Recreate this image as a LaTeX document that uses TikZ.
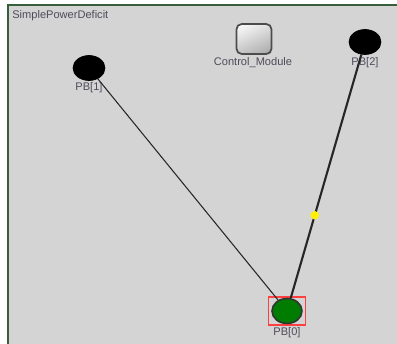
\documentclass[tikz,border=0pt]{standalone}
\usepackage{fontspec}
\setmainfont{Liberation Sans}
\usetikzlibrary{shapes.geometric,shadings}
\definecolor{canvas}{RGB}{212,212,212}
\definecolor{framegreen}{RGB}{55,95,60}
\definecolor{labelgray}{RGB}{80,75,90}
\definecolor{busgreen}{RGB}{0,125,0}
\begin{document}
\begin{tikzpicture}[x=0.02cm,y=-0.02cm]
                \tikzset{bus/.style = {shape=ellipse,draw=black,fill=black,minimum width=0.64cm,minimum height=0.5cm,inner sep=0pt}}
                \tikzset{tag/.style = {font=\fontsize{6.3}{7}\selectfont,text=labelgray,inner sep=0pt}}
                \tikzset{edge/.style = {draw=black!85,line width=0.6pt}}
                \useasboundingbox (0,0) rectangle (397,344);
                \fill[white] (0,0) rectangle (397,344);
                \fill[canvas] (8,5) rectangle (397,344);
                \draw[framegreen,line width=1.2pt] (8,344) -- (8,5) -- (397,5);
                \node[tag,anchor=west] (title) at (12,16) {SimplePowerDeficit};

                \node[draw=black!70,line width=1pt,rounded corners=3pt,minimum width=0.7cm,minimum height=0.6cm,
                      upper left=white,upper right=gray!25,lower left=gray!45,lower right=gray!70] (ctrl) at (254,39) {};
                \node[tag] (ctrltag) at (253,63) {Control\_Module};

                \node[bus] (pb1) at (89,68) {};
                \node[tag] (pb1tag) at (89,88) {PB[1]};
                \node[bus] (pb2) at (365,42) {};
                \node[tag] (pb2tag) at (365,63) {PB[2]};
                \node[draw=red!75,line width=0.6pt,minimum width=0.74cm,minimum height=0.56cm,inner sep=0pt] (sel) at (287,311) {};
                \node[bus,fill=busgreen,draw=black!80,line width=0.9pt,minimum width=0.6cm,minimum height=0.5cm] (pb0) at (287,311) {};
                \node[tag] (pb0tag) at (287,333) {PB[0]};

                \draw[edge] (pb1) to (pb0);
                \draw[edge,line width=1.2pt] (pb2) to node[pos=0.66,circle,fill=yellow,inner sep=0pt,minimum size=0.17cm] (flow) {} (pb0);
            \end{tikzpicture}
\end{document}
